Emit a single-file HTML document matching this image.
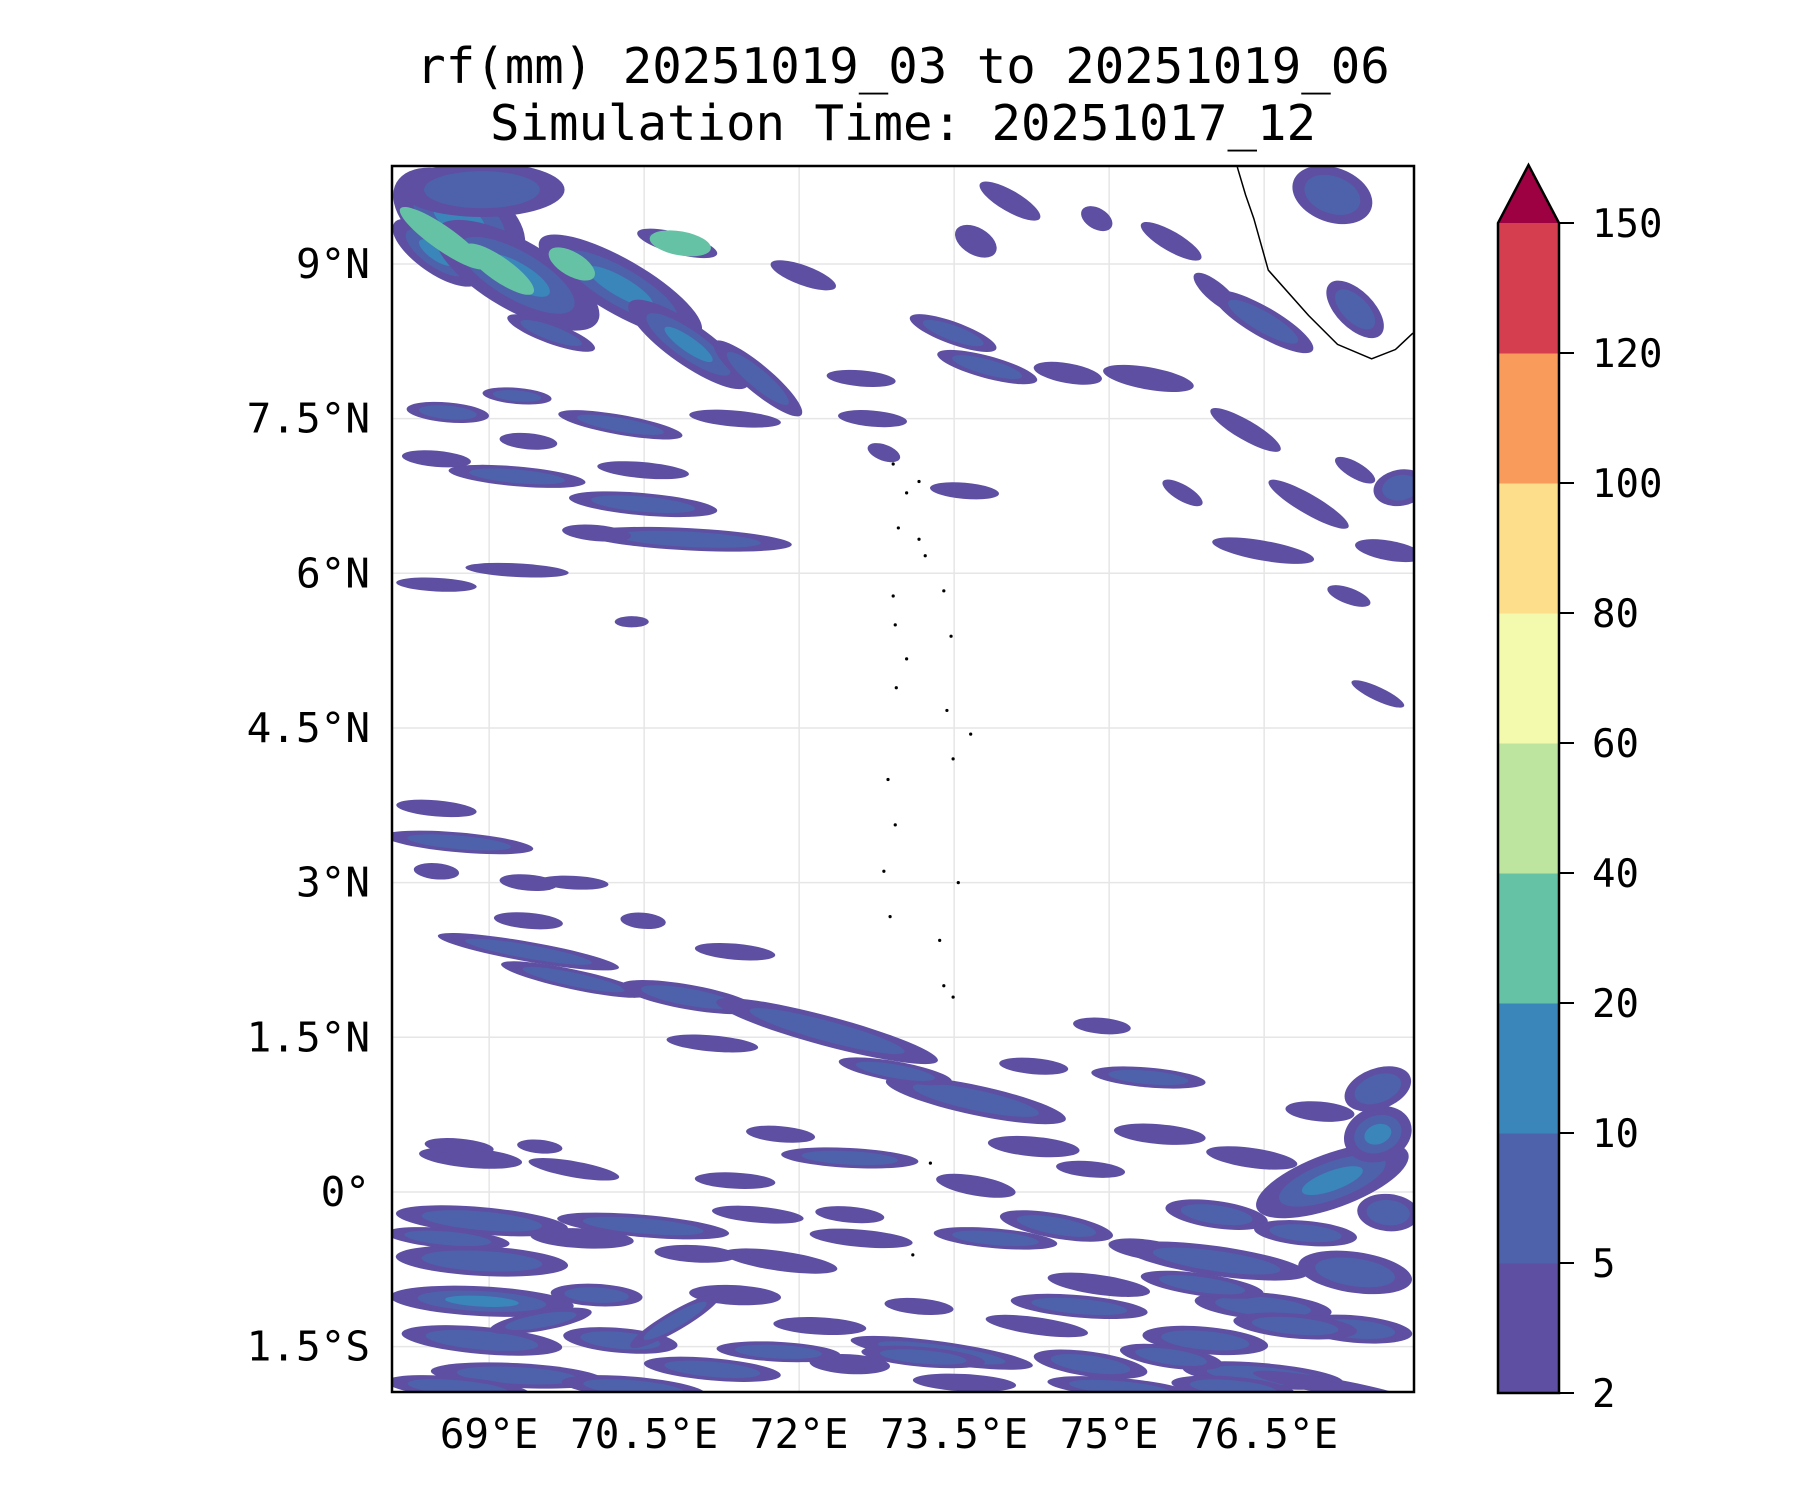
<!DOCTYPE html>
<html><head><meta charset="utf-8"><style>
html,body{margin:0;padding:0;background:#fff;}
svg text{font-family:"DejaVu Sans Mono","Liberation Mono",monospace;fill:#000;}
</style></head><body>
<svg id="fig" width="1800" height="1500" viewBox="0 0 1800 1500" xmlns="http://www.w3.org/2000/svg">
<text x="903" y="83" font-size="49" text-anchor="middle">rf(mm) 20251019_03 to 20251019_06</text>
<text x="903" y="140" font-size="49" text-anchor="middle">Simulation Time: 20251017_12</text>
<defs><clipPath id="pc"><rect x="392" y="166" width="1022" height="1226"/></clipPath></defs>
<g id="grid"></g>
<g id="marks" clip-path="url(#pc)"></g>
<g id="geo" clip-path="url(#pc)"></g>
<rect x="392" y="166" width="1022" height="1226" fill="none" stroke="#000" stroke-width="2.5"/>
<g id="axes"></g>
<g id="cbar"></g>
</svg>
<script>
const lonTicks=[69,70.5,72,73.5,75,76.5];
const lonLabels=["69°E","70.5°E","72°E","73.5°E","75°E","76.5°E"];
const latTicks=[9,7.5,6,4.5,3,1.5,0,-1.5];
const latLabels=["9°N","7.5°N","6°N","4.5°N","3°N","1.5°N","0°","1.5°S"];
const cbarLevels=[2,5,10,20,40,60,80,100,120,150];
const cbarColors=["#5e4fa2","#4e62ab","#3a86bb","#66c2a5","#bde5a0","#f3faad","#fddf8b","#f99b5b","#d53e4f"];
const extendColor="#9e0142";
// rain cells: center lon/lat, length/width (deg), tilt (deg), level count
const cellLon=[68.71,68.49,69.27,70.27,70.93,69.6,71.6,68.93,70.82,
68.6,69.27,70.27,71.38,68.49,69.38,69.27,70.49,70.49,70.93,70.04,69.27,68.49,70.38,
72.04,73.71,74.04,73.49,72.6,72.71,73.82,74.6,73.6,72.82,74.88,75.6,76.04,76.49,75.38,77.16,77.38,76.32,76.93,76.49,77.82,77.71,77.32,77.38,75.71,77.6,
68.49,68.71,69.38,68.49,69.82,69.38,70.49,69.38,71.38,69.82,70.93,72.27,73.71,74.27,72.93,71.16,74.93,75.38,75.49,76.38,74.82,74.27,73.71,74.49,75.38,76.04,77.16,77.6,77.6,77.04,76.04,77.38,76.49,77.38,75.93,74.71,74.82,76.49,73.38,73.16,71.82,72.49,71.6,70.49,68.93,68.93,68.93,70.04,71.38,68.93,70.27,71.16,69.27,72.49,68.82,69.82,68.71,69.49,71.38,72.49,71.82,77.16,
68.6,69.9,71.0,72.6,73.9,74.9,75.9,76.9,77.7,69.5,70.8,72.2,73.2,74.3,75.6,76.8,68.7,70.4,71.8,73.6,75.1,76.2];
const cellLat=[9.44,9.11,8.89,8.78,8.22,8.33,7.89,9.72,9.2,
7.56,7.72,7.44,7.5,7.11,7.28,6.94,7.0,6.67,6.33,6.39,6.03,5.89,5.53,
8.89,9.22,9.61,8.33,7.89,7.5,8.0,7.94,6.8,7.17,9.44,9.22,8.72,8.44,7.89,9.67,8.56,7.39,6.67,6.22,6.83,6.22,5.78,7.0,6.78,4.83,
3.72,3.39,3.0,3.11,3.0,2.63,2.63,2.33,2.33,2.06,1.89,1.56,0.89,1.22,1.17,1.44,1.61,1.11,0.56,0.33,0.22,0.44,0.06,-0.33,-0.56,-0.67,0.11,0.56,1.0,0.78,-0.22,-0.78,-1.11,-1.33,-1.44,-1.11,-1.67,-1.78,-1.56,-1.11,-0.67,-0.22,-0.22,-0.33,-0.28,-0.67,-1.06,-1.0,-1.0,-1.44,-1.44,-1.72,-1.78,-1.67,0.33,0.22,0.44,0.44,0.11,0.33,0.56,-1.89,
-0.45,-0.45,-0.6,-0.45,-0.45,-0.9,-0.9,-0.4,-0.2,-1.25,-1.25,-1.3,-1.6,-1.3,-1.6,-1.3,-1.9,-1.9,-1.55,-1.85,-1.9,-1.9];
const cellLen=[1.4,1.0,1.8,1.8,1.4,0.9,1.1,1.6,0.8,
0.8,0.67,1.22,0.89,0.67,0.56,1.33,0.89,1.44,2.0,0.67,1.0,0.78,0.33,
0.67,0.44,0.67,0.89,0.67,0.67,1.0,0.67,0.67,0.33,0.33,0.67,0.56,1.11,0.89,0.8,0.7,0.78,0.89,1.0,0.35,0.67,0.44,0.44,0.44,0.56,
0.78,1.44,0.56,0.44,0.67,0.67,0.44,1.78,0.78,1.44,1.33,2.22,1.78,0.67,1.11,0.89,0.56,1.11,0.89,0.89,0.67,0.89,0.78,1.11,0.78,1.78,1.56,0.67,0.67,0.67,1.0,1.11,1.33,1.11,1.22,1.33,1.11,1.56,1.78,0.67,1.11,0.67,0.89,1.67,1.67,1.67,1.78,0.89,0.89,1.56,1.11,1.33,1.67,0.78,1.0,0.89,0.67,0.44,0.78,1.33,0.67,1.56,
1.2,1.0,0.8,1.0,1.2,1.0,1.2,1.0,0.6,1.0,1.0,0.9,1.2,1.0,1.0,1.2,1.4,1.4,1.2,1.0,1.4,1.2];
const cellWid=[0.67,0.33,0.56,0.44,0.33,0.17,0.22,0.44,0.17,
0.16,0.13,0.16,0.13,0.13,0.13,0.16,0.13,0.18,0.18,0.13,0.11,0.11,0.09,
0.16,0.22,0.17,0.18,0.13,0.13,0.18,0.16,0.13,0.13,0.17,0.16,0.16,0.24,0.18,0.44,0.3,0.16,0.16,0.16,0.44,0.16,0.13,0.13,0.13,0.11,
0.13,0.16,0.13,0.13,0.11,0.13,0.13,0.16,0.13,0.16,0.2,0.24,0.24,0.13,0.16,0.13,0.13,0.16,0.16,0.16,0.13,0.16,0.16,0.2,0.16,0.24,0.44,0.44,0.33,0.16,0.22,0.33,0.22,0.22,0.22,0.18,0.2,0.2,0.18,0.13,0.16,0.13,0.13,0.18,0.22,0.24,0.24,0.18,0.16,0.22,0.2,0.18,0.2,0.16,0.16,0.13,0.13,0.11,0.13,0.16,0.13,0.13,
0.16,0.16,0.14,0.14,0.16,0.16,0.18,0.2,0.3,0.16,0.16,0.14,0.16,0.14,0.18,0.2,0.18,0.18,0.16,0.14,0.16,0.18];
const cellAng=[30,35,30,30,35,20,40,0,15,
5,5,10,5,5,5,5,5,5,3,5,3,3,0,
20,30,30,20,5,5,15,10,5,20,30,30,40,30,10,20,45,30,30,10,80,10,20,30,30,25,
5,5,5,5,3,5,5,10,5,12,10,15,12,5,10,5,5,5,5,8,5,5,10,10,8,8,-20,-20,-20,5,8,8,5,5,5,5,8,5,8,5,8,5,5,5,5,3,3,3,3,5,5,5,3,3,5,10,5,5,3,3,5,10,5,3,
3,5,5,8,8,5,5,-10,-30,3,5,8,8,5,5,5,3,3,5,5,5,5];
const cellLvl=[3,3,3,3,3,2,2,2,4,
2,2,2,1,1,1,2,1,2,2,1,1,1,1,
1,1,1,2,1,1,2,1,1,1,1,1,1,2,1,2,2,1,1,1,2,1,1,1,1,1,
1,2,1,1,1,1,1,2,1,2,2,2,2,1,2,1,1,2,1,1,1,1,1,2,1,2,3,3,2,1,2,2,2,2,2,2,2,2,2,1,1,1,1,2,2,2,3,2,1,2,2,2,2,1,1,1,1,1,1,2,1,1,
2,1,1,1,2,1,2,2,2,2,2,1,2,1,2,2,2,2,2,1,2,2];
const greenLon=[68.55,69.1,70.85,69.8];
const greenLat=[9.25,8.95,9.2,9.0];
const greenLen=[1.0,0.8,0.6,0.5];
const greenAng=[35,35,10,30];
const coastLon=[76.24,76.32,76.4,76.54,76.93,77.21,77.54,77.77,77.94];
const coastLat=[9.94,9.67,9.44,8.94,8.5,8.22,8.08,8.17,8.33];
const isleLon=[72.91,73.04,73.16,72.96,73.16,73.22,72.91,73.4,72.93,73.47,73.04,72.94,73.43,73.66,73.49,72.86,72.93,72.82,73.54,72.88,73.36,73.4,73.49,73.1,73.27];
const isleLat=[7.06,6.78,6.89,6.44,6.33,6.17,5.78,5.83,5.5,5.39,5.17,4.89,4.67,4.44,4.2,4.0,3.56,3.11,3.0,2.67,2.44,2.0,1.89,-0.61,0.28];

const NS="http://www.w3.org/2000/svg";
const X0=392,X1=1414,Y0=166,Y1=1392;
const LON0=68.06,LON1=77.95,LAT0=-1.94,LAT1=9.95;
const xs=l=>X0+(l-LON0)/(LON1-LON0)*(X1-X0);
const ys=l=>Y1-(l-LAT0)/(LAT1-LAT0)*(Y1-Y0);
const pxPerDeg=(X1-X0)/(LON1-LON0);
function mk(tag,attrs,parent){const e=document.createElementNS(NS,tag);for(const k in attrs)e.setAttribute(k,attrs[k]);parent.appendChild(e);return e;}
const grid=document.getElementById('grid'),marks=document.getElementById('marks'),geo=document.getElementById('geo'),axes=document.getElementById('axes'),cbar=document.getElementById('cbar');
lonTicks.forEach((v,i)=>{
  const l=mk('line',{x1:xs(v),x2:xs(v),y1:Y0,y2:Y1,stroke:'#e6e6e6','stroke-width':1.5},grid);
  
  
  const t=mk('text',{x:xs(v),y:1448,'font-size':41,'text-anchor':'middle'},axes);
  t.textContent=lonLabels[i];
  
  
});
latTicks.forEach((v,i)=>{
  const l=mk('line',{x1:X0,x2:X1,y1:ys(v),y2:ys(v),stroke:'#e6e6e6','stroke-width':1.5},grid);
  
  
  const t=mk('text',{x:370,y:ys(v)+14,'font-size':41,'text-anchor':'end'},axes);
  t.textContent=latLabels[i];
  
  
});
cellLon.forEach((lo,i)=>{
  const cx=xs(lo),cy=ys(cellLat[i]);
  const rx=cellLen[i]*pxPerDeg/2,ry=cellWid[i]*pxPerDeg/2*1.2;
  for(let k=0;k<cellLvl[i];k++){
    const f=1-0.3*k,g=1-0.32*k;
    const e=mk('ellipse',{cx:cx,cy:cy,rx:Math.max(3,rx*f),ry:Math.max(2,ry*g),fill:cbarColors[k],transform:`rotate(${cellAng[i]} ${cx} ${cy})`},marks);
    
    
  }
});
greenLon.forEach((lo,i)=>{
  const cx=xs(lo),cy=ys(greenLat[i]);
  const e=mk('ellipse',{cx:cx,cy:cy,rx:greenLen[i]*pxPerDeg/2,ry:12,fill:cbarColors[3],transform:`rotate(${greenAng[i]} ${cx} ${cy})`},marks);
  
  
});
const cp=mk('polyline',{points:coastLon.map((lo,i)=>xs(lo)+','+ys(coastLat[i])).join(' '),fill:'none',stroke:'#000','stroke-width':1.5},geo);


isleLon.forEach((lo,i)=>{
  const c=mk('circle',{cx:xs(lo),cy:ys(isleLat[i]),r:1.6,fill:'#000'},geo);
  
  
});
// colorbar
const CB0=1498,CB1=1559,CBT=223,CBB=1393;
const band=(CBB-CBT)/(cbarLevels.length-1);
cbarColors.forEach((c,i)=>{
  const r=mk('rect',{x:CB0,y:CBB-(i+1)*band,width:CB1-CB0,height:band+0.5,fill:c},cbar);
  
  
});
const tri=mk('polygon',{points:`${CB0},${CBT} ${CB1},${CBT} ${(CB0+CB1)/2},165`,fill:extendColor},cbar);


const ol=mk('polygon',{points:`${CB0},${CBB} ${CB0},${CBT} ${(CB0+CB1)/2},165 ${CB1},${CBT} ${CB1},${CBB}`,fill:'none',stroke:'#000','stroke-width':2.5},cbar);


cbarLevels.forEach((v,i)=>{
  const y=CBB-i*band;
  const tk=mk('line',{x1:CB1,x2:CB1+15,y1:y,y2:y,stroke:'#000','stroke-width':2},cbar);
  
  
  const t=mk('text',{x:1592,y:y+14,'font-size':39},cbar);
  t.textContent=v;
  
  
});
</script>
</body></html>
